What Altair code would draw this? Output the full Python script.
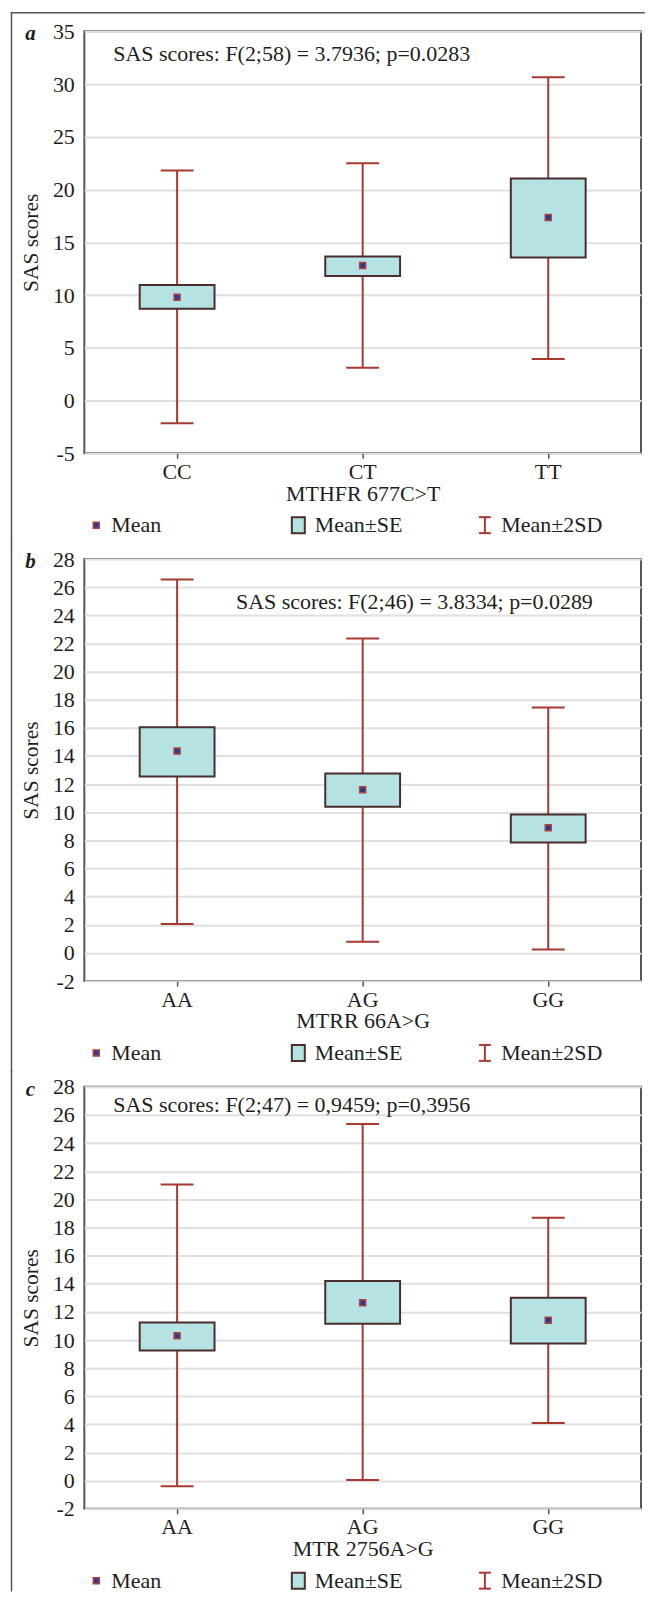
import altair as alt
import pandas as pd

FONT = "Liberation Serif"

# ---------------- data ----------------
a_groups = ["CC", "CT", "TT"]
a_mean = [9.8, 12.8, 17.35]
a_se_lo = [8.7, 11.8, 13.55]
a_se_hi = [10.95, 13.65, 21.05]
a_sd_lo = [-2.15, 3.1, 3.95]
a_sd_hi = [21.8, 22.5, 30.65]

b_groups = ["AA", "AG", "GG"]
b_mean = [14.35, 11.6, 8.9]
b_se_lo = [12.55, 10.4, 7.85]
b_se_hi = [16.05, 12.75, 9.85]
b_sd_lo = [2.05, 0.8, 0.25]
b_sd_hi = [26.55, 22.35, 17.45]

c_groups = ["AA", "AG", "GG"]
c_mean = [10.3, 12.65, 11.4]
c_se_lo = [9.25, 11.15, 9.75]
c_se_hi = [11.25, 14.2, 13.0]
c_sd_lo = [-0.4, 0.05, 4.1]
c_sd_hi = [21.05, 25.35, 18.7]

panel_letters = ["a", "b", "c"]
x_titles = ["MTHFR 677C>T", "MTRR 66A>G", "MTR 2756A>G"]
notes = [
    "SAS scores: F(2;58) = 3.7936; p=0.0283",
    "SAS scores: F(2;46) = 3.8334; p=0.0289",
    "SAS scores: F(2;47) = 0,9459; p=0,3956",
]
y_title = "SAS scores"
legend_labels = ["Mean", "Mean±SE", "Mean±2SD"]
y_ranges = [(-5, 35, 5), (-2, 28, 2), (-2, 28, 2)]

# ---------------- styling ----------------
W, H = 558, 423
GAP = 106
BOX_FILL = "#b5e2e2"
BOX_STROKE = "#4a2e2e"
SD_COLOR = "#a63a32"
MEAN_FILL = "#2b3a92"
MEAN_STROKE = "#b4423c"
FRAME = "#555555"
TEXT = "#1e1e1e"

dummy = pd.DataFrame({"k": [0]})


def border(**enc):
    return alt.Chart(dummy).mark_rule(color=FRAME, strokeWidth=1.5, strokeCap="square").encode(**enc)


def label(txt, x, y, size=22, align="left", baseline="middle", **kw):
    return alt.Chart(dummy).mark_text(
        text=txt, font=FONT, fontSize=size, color=TEXT, align=align, baseline=baseline, **kw
    ).encode(x=alt.value(x), y=alt.value(y))


def panel(idx, groups, mean, se_lo, se_hi, sd_lo, sd_hi, note_x, note_y, top_ext, bottom_ext, top_line):
    df = pd.DataFrame({"g": groups, "mean": mean, "se_lo": se_lo, "se_hi": se_hi,
                       "sd_lo": sd_lo, "sd_hi": sd_hi})
    lo, hi, step = y_ranges[idx]
    x = alt.X("g:N", sort=groups,
              scale=alt.Scale(type="band", paddingInner=0, paddingOuter=0),
              axis=alt.Axis(title=x_titles[idx], labelAngle=0, labelFontSize=22, titleFontSize=22,
                            tickSize=5, tickWidth=1.5, tickColor=FRAME, labelPadding=3,
                            titlePadding=1, grid=False, domain=False))
    ysc = alt.Scale(domain=[lo, hi], nice=False, zero=False)
    yax = alt.Axis(title=y_title, values=list(range(lo, hi + 1, step)), ticks=False, tickSize=0,
                   labelExpr="'' + datum.value",
                   labelPadding=10, labelFontSize=22, titleFontSize=21.5, titleX=-42, titleY=H / 2,
                   grid=True, gridColor="#e0e0e0", gridWidth=2, domain=False)
    base = alt.Chart(df)
    sd = base.mark_rule(color=SD_COLOR, strokeWidth=2).encode(
        x=x, y=alt.Y("sd_lo:Q", scale=ysc, axis=yax), y2="sd_hi:Q")
    cap_lo = base.mark_tick(color=SD_COLOR, size=33, thickness=2, opacity=1).encode(
        x=x, y=alt.Y("sd_lo:Q", scale=ysc, axis=yax))
    cap_hi = base.mark_tick(color=SD_COLOR, size=33, thickness=2, opacity=1).encode(
        x=x, y=alt.Y("sd_hi:Q", scale=ysc, axis=yax))
    box = base.mark_bar(size=75, fill=BOX_FILL, stroke=BOX_STROKE, strokeWidth=2).encode(
        x=x, y=alt.Y("se_lo:Q", scale=ysc, axis=yax), y2="se_hi:Q")
    pt = base.mark_square(size=36, fill=MEAN_FILL, stroke=MEAN_STROKE, strokeWidth=1.5, opacity=1).encode(
        x=x, y=alt.Y("mean:Q", scale=ysc, axis=yax))

    note = label(notes[idx], note_x, note_y, size=22)
    letter = label(panel_letters[idx], -54, 9, size=21, align="center", baseline="alphabetic",
                   fontStyle="italic", fontWeight="bold")

    ly = H + 72
    lg_mean = alt.Chart(dummy).mark_square(size=36, fill=MEAN_FILL, stroke=MEAN_STROKE,
                                           strokeWidth=1.5, opacity=1).encode(
        x=alt.value(12), y=alt.value(ly))
    lg_box = alt.Chart(dummy).mark_rect(fill=BOX_FILL, stroke=BOX_STROKE, strokeWidth=2).encode(
        x=alt.value(208), x2=alt.value(221), y=alt.value(ly - 8), y2=alt.value(ly + 8))
    lg_sd = alt.Chart(dummy).mark_rule(color=SD_COLOR, strokeWidth=2).encode(
        x=alt.value(401.5), y=alt.value(ly - 8), y2=alt.value(ly + 8))
    lg_sd_t = alt.Chart(dummy).mark_rule(color=SD_COLOR, strokeWidth=2).encode(
        x=alt.value(395.5), x2=alt.value(407.5), y=alt.value(ly - 8))
    lg_sd_b = alt.Chart(dummy).mark_rule(color=SD_COLOR, strokeWidth=2).encode(
        x=alt.value(395.5), x2=alt.value(407.5), y=alt.value(ly + 8))
    lg_t1 = label(legend_labels[0], 27, ly, size=22)
    lg_t2 = label(legend_labels[1], 231, ly, size=22)
    lg_t3 = label(legend_labels[2], 418, ly, size=22)

    layers = [sd, cap_lo, cap_hi, box, pt, note, letter,
              lg_mean, lg_box, lg_sd, lg_sd_t, lg_sd_b, lg_t1, lg_t2, lg_t3,
              border(x=alt.value(-73), y=alt.value(-top_ext), y2=alt.value(H + bottom_ext))]
    if top_line:
        layers.append(border(x=alt.value(-73), x2=alt.value(561), y=alt.value(-top_ext)))
    return alt.layer(*layers).properties(width=W, height=H)


pa = panel(0, a_groups, a_mean, a_se_lo, a_se_hi, a_sd_lo, a_sd_hi, 29, 23, 18.5, GAP - 15, True)
pb = panel(1, b_groups, b_mean, b_se_lo, b_se_hi, b_sd_lo, b_sd_hi, 152, 43.5, 15, GAP - 15, False)
pc = panel(2, c_groups, c_mean, c_se_lo, c_se_hi, c_sd_lo, c_sd_hi, 29, 18, 15, 82, False)

chart = (
    alt.vconcat(pa, pb, pc, spacing=GAP, bounds="flush")
    .properties(padding={"left": 0.5, "top": 0.5, "right": 0, "bottom": 0})
    .configure_view(stroke=FRAME, strokeWidth=2)
    .configure_axis(labelFont=FONT, titleFont=FONT, labelColor=TEXT, titleColor=TEXT,
                    titleFontWeight="normal")
)

chart.save("out.html", embed_options={"renderer": "svg", "actions": False})
